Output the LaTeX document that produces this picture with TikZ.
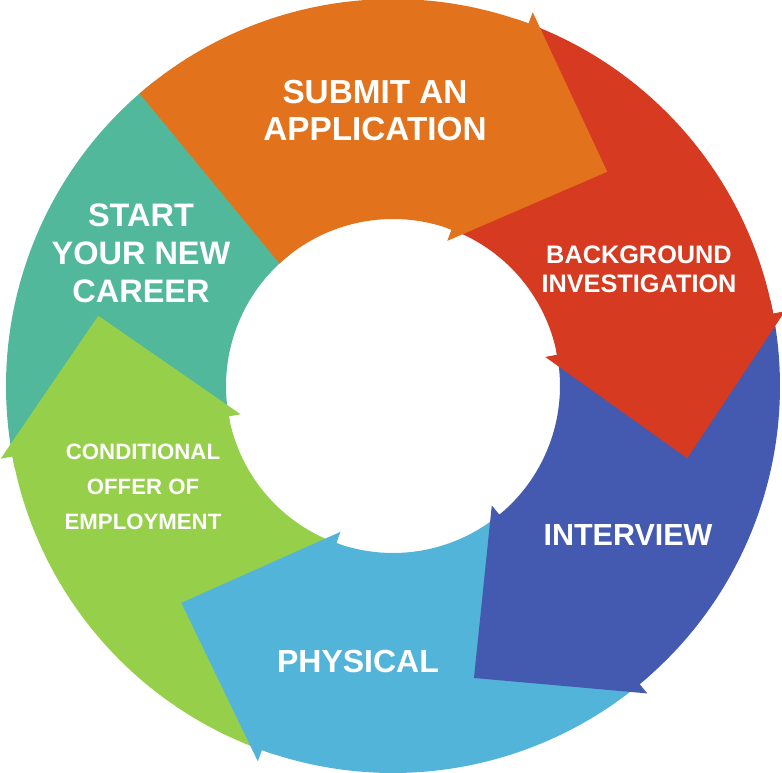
\documentclass[tikz,border=0pt]{standalone}
\usepackage{fontspec}
\setmainfont{Liberation Sans}
\definecolor{cOrange}{HTML}{E2731C}
\definecolor{cRed}{HTML}{D63A20}
\definecolor{cBlue}{HTML}{4459B0}
\definecolor{cLight}{HTML}{52B4D8}
\definecolor{cGreen}{HTML}{96CF4A}
\definecolor{cTeal}{HTML}{52B89B}
\newcommand\cycseg[6]{% color, tail outer angle, tail inner angle, barb angle, tip angle
  \fill[#1] ([shift={(#2:\Ro)}]C) arc[start angle=#2, end angle=#4, radius=\Ro]
    -- ([shift={(#4:\Rs)}]C) -- ([shift={(#5:\Rt)}]C) -- ([shift={(#4:\Ris)}]C)
    -- ([shift={(#4:\Ri)}]C) arc[start angle=#4, end angle=#3, radius=\Ri] -- cycle;}
\begin{document}
\begin{tikzpicture}[x=1pt,y=1pt,
  lbl/.style={text=white, align=center, inner sep=0pt, font=\bfseries}]
\useasboundingbox (0,0) rectangle (782,772);
\coordinate (C) at (393,386);
\def\Ro{387pt}\def\Rs{399pt}\def\Ri{167pt}\def\Ris{155pt}\def\Rt{303pt}
% teal (no arrow head)
\fill[cTeal] ([shift={(192.5:\Ro)}]C) arc[start angle=192.5, end angle=128, radius=\Ro]
  -- ([shift={(128:\Ri)}]C) arc[start angle=128, end angle=192.5, radius=\Ri] -- cycle;
% green
\cycseg{cGreen}{-107.8}{-107.8}{-169.5}{-193.4}{}
% light blue
\cycseg{cLight}{-48.4}{-48.4}{-109.8}{-134.3}{}
% blue
\cycseg{cBlue}{12.8}{12.8}{-50.4}{-74.5}{}
% red
\cycseg{cRed}{71.5}{71.5}{10.8}{-13.8}{}
% orange
\cycseg{cOrange}{130.9}{132.8}{69.5}{45.0}{}
% labels
\node[lbl, font=\bfseries\fontsize{33.3}{37}\selectfont] (t1) at (375,661) {SUBMIT AN\\APPLICATION};
\node[lbl, font=\bfseries\fontsize{25.3}{29}\selectfont] (t2) at (639,503) {BACKGROUND\\INVESTIGATION};
\node[lbl, font=\bfseries\fontsize{30.5}{36}\selectfont] (t3) at (628,237) {INTERVIEW};
\node[lbl, font=\bfseries\fontsize{32}{36}\selectfont] (t4) at (358,111) {PHYSICAL};
\node[lbl, font=\bfseries\fontsize{22.2}{35}\selectfont] (t5) at (143,285) {CONDITIONAL\\OFFER OF\\EMPLOYMENT};
\node[lbl, font=\bfseries\fontsize{32.5}{38}\selectfont] (t6) at (141,519) {START\\YOUR NEW\\CAREER};
\end{tikzpicture}
\end{document}
